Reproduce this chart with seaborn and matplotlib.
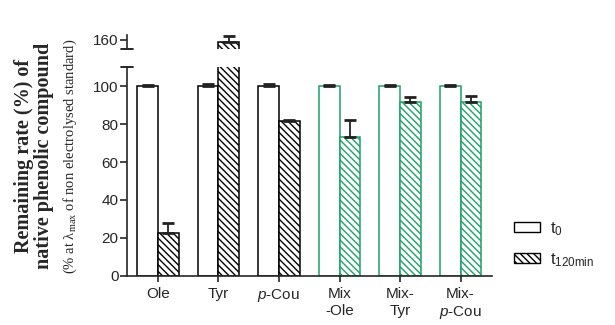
import numpy as np
import pandas as pd
import seaborn as sns
import matplotlib.pyplot as plt
from matplotlib.patches import Patch

# data
categories = ["Ole", "Tyr", "p-Cou", "Mix-Ole", "Mix-Tyr", "Mix-p-Cou"]
tick_labels = ["Ole", "Tyr", "$\\it{p}$-Cou", "Mix\n-Ole", "Mix-\nTyr", "Mix-\n$\\it{p}$-Cou"]
t0_values = [100.0, 100.0, 100.0, 100.0, 100.0, 100.0]
t0_errors = [0.3, 0.9, 0.9, 0.4, 0.4, 0.4]
t120_values = [22.5, 158.8, 81.5, 72.9, 91.7, 91.4]
t120_errors = [5.6, 3.4, 0.4, 9.0, 2.5, 3.1]
time_labels = ["t0", "t120"]

GREEN = "#1ca266"
edge_colors = ["black", "black", "black", GREEN, GREEN, GREEN]
HATCH = "\\\\\\\\\\"

sns.set_style("ticks")
plt.rcParams["font.family"] = ["Liberation Sans", "DejaVu Sans"]
plt.rcParams["mathtext.fontset"] = "custom"
plt.rcParams["mathtext.rm"] = "Liberation Serif"
plt.rcParams["mathtext.it"] = "Liberation Sans:italic"
plt.rcParams["hatch.linewidth"] = 1.0

df = pd.DataFrame({
    "category": categories * 2,
    "time": [time_labels[0]] * len(categories) + [time_labels[1]] * len(categories),
    "value": t0_values + t120_values,
})
errors = {time_labels[0]: t0_errors, time_labels[1]: t120_errors}

fig = plt.figure(figsize=(6.15, 3.25), dpi=100)
ax_bot = fig.add_axes([0.2065, 0.1508, 0.5935, 0.643])
ax_top = fig.add_axes([0.2065, 0.8492, 0.5935, 0.0431], sharex=ax_bot)


def draw_bars(ax):
    sns.barplot(data=df, x="category", y="value", hue="time", order=categories,
                hue_order=time_labels, palette=["white", "white"], width=0.68,
                gap=0, legend=False, ax=ax, errorbar=None, linewidth=1.1)
    for t, cont in zip(time_labels, ax.containers):
        xs, ys = [], []
        for i, bar in enumerate(cont):
            bar.set_edgecolor(edge_colors[i])
            bar.set_facecolor("white")
            if t == "t120":
                bar.set_hatch(HATCH)
            xs.append(bar.get_x() + bar.get_width() / 2)
            ys.append(bar.get_height())
        err = errors[t]
        ax.errorbar(xs, ys, yerr=[np.zeros(len(err)), err], fmt="none",
                    ecolor="#222222", elinewidth=1.3, capsize=4.5, capthick=2,
                    clip_on=True, zorder=1)


draw_bars(ax_bot)
draw_bars(ax_top)

ax_bot.set_xlim(-0.512, 5.52)
ax_bot.set_ylim(0, 110)
ax_top.set_ylim(155, 162.6)

ax_bot.set_yticks([0, 20, 40, 60, 80, 100])
ax_top.set_yticks([160])
ax_bot.set_xticks(range(len(categories)))
ax_bot.set_xticklabels(tick_labels, fontsize=11, linespacing=1.25)
ax_bot.tick_params(axis="y", labelsize=11, length=5, width=1.2, pad=1)
ax_bot.tick_params(axis="x", length=4, width=1.2, pad=4)
ax_top.tick_params(axis="y", labelsize=11, length=5, width=1.2, pad=1)
ax_top.tick_params(axis="x", bottom=False, labelbottom=False)

for ax in (ax_bot, ax_top):
    ax.set_xlabel("")
    ax.set_ylabel("")
    sns.despine(ax=ax)
    ax.spines["left"].set_linewidth(1.2)
ax_bot.spines["bottom"].set_linewidth(1.2)
ax_top.spines["bottom"].set_visible(False)

# break marks of the split axis
d = 6 / (0.5935 * 615)
ax_bot.plot([-d, d], [1, 1], transform=ax_bot.transAxes, color="black",
            lw=1.2, clip_on=False)
ax_top.plot([-d, d], [0, 0], transform=ax_top.transAxes, color="black",
            lw=1.2, clip_on=False)

# y labels
fig.text(0.056, 0.52, "Remaining rate (%) of\nnative phenolic compound",
         rotation=90, ha="center", va="center", family="Liberation Serif",
         fontweight="bold", fontsize=14.5, linespacing=1.0)
fig.text(0.114, 0.52,
         "(% at $\\mathrm{\\lambda}_{\\mathregular{max}}$ of non electrolysed standard)",
         rotation=90, ha="center", va="center", family="Liberation Serif",
         fontsize=10.5)

# legend
handles = [Patch(facecolor="white", edgecolor="black", linewidth=1.0),
           Patch(facecolor="white", edgecolor="black", linewidth=1.0, hatch=HATCH)]
fig.legend(handles, ["t$_\\mathregular{0}$", "t$_\\mathregular{120min}$"],
           loc="center left", bbox_to_anchor=(0.835, 0.248), frameon=False,
           fontsize=12, borderpad=0, borderaxespad=0, handlelength=1.6,
           handleheight=0.55, handletextpad=0.6, labelspacing=0.8)

fig.savefig("out.png", dpi=100)
